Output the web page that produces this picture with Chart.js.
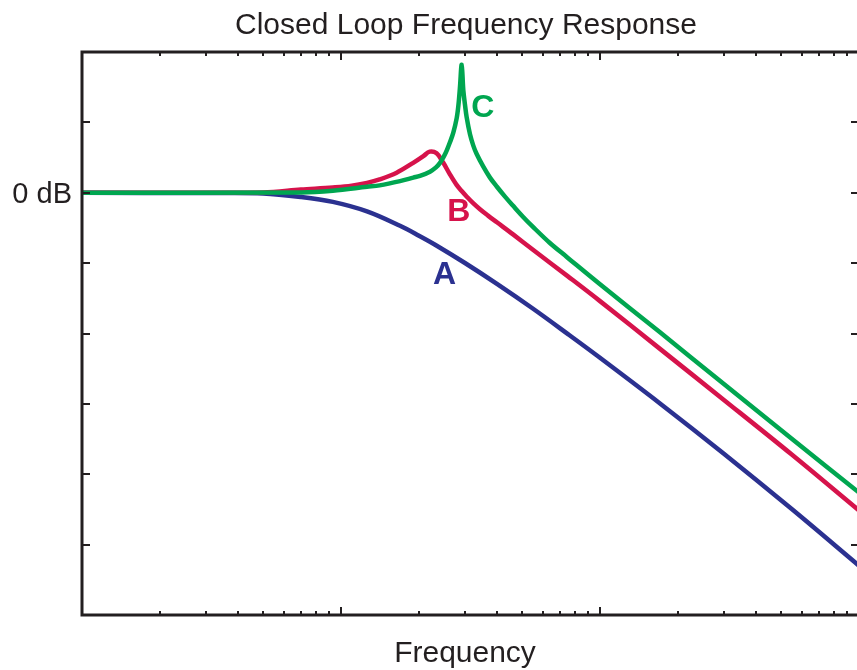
<!DOCTYPE html>
<html>
<head>
<meta charset="utf-8">
<title>Closed Loop Frequency Response</title>
<script src="https://cdn.jsdelivr.net/npm/chart.js@4.4.0/dist/chart.umd.min.js"></script>
<style>
  html, body { margin: 0; padding: 0; background: #fff; overflow: hidden; }
  #wrap { width: 857px; height: 670px; overflow: hidden; }
</style>
</head>
<body>
<div id="wrap"><canvas id="chart" width="861" height="670"></canvas></div>
<script>
// Frequency axis is logarithmic (three decades), gain in dB.
const gainTicks = [-100, -80, -60, -40, -20, 0, 20];
const freqDecades = [1, 10, 100, 1000];

// Curve A: well damped, rolls off early
const freqA = [1, 3, 5, 7, 9.3, 12.6, 16.9, 20, 23, 30, 40, 55, 75, 100, 170, 300, 550, 1000];
const gainA = [0, -0.1, -0.2, -1.2, -2.6, -5.3, -9.4, -12.2, -14.7, -19.9, -25.9, -32.9, -40.1, -46.9, -59.8, -74.1, -89.9, -106.0];

// Curve B: moderate peaking
const freqB = [1, 5, 7, 9.3, 11, 12.6, 14.1, 16.4, 19, 20.8, 22, 23.4, 24.8, 26.3, 27.9, 29.3, 30.66, 32.3, 34.4, 36.95, 40, 46.3, 55.1, 75, 100, 170, 300, 550, 1000];
const gainB = [0, 0.1, 0.9, 1.5, 2.0, 2.8, 3.8, 5.7, 8.5, 10.4, 11.7, 11.2, 8.6, 5.3, 2.3, 0.4, -1.2, -2.9, -4.7, -6.5, -8.4, -11.9, -16.2, -23.7, -30.8, -44.3, -58.8, -74.4, -90.3];

// Curve C: lightly damped, sharp resonance
const freqC = [1, 7, 9.3, 12.6, 14.1, 16.9, 19.02, 20.18, 22.06, 23.27, 24.11, 24.99, 25.66, 26.36, 27.14, 27.97, 28.42, 28.8, 29.24,
               29.66, 30.11, 30.57, 31.48, 32.42, 33.41, 35.44, 37.6, 40, 42.98, 46.3, 50.4, 55.1, 63.9, 74.6, 100, 170, 300, 550, 1000];
const gainC = [0, 0.1, 0.6, 1.7, 2.1, 3.3, 4.3, 4.8, 6.0, 7.2, 8.5, 10.4, 12.2, 14.4, 17.1, 21.2, 25.1, 30.1, 36.4,
               29.2, 25.0, 21.4, 16.6, 13.4, 11.0, 7.4, 4.3, 1.7, -1.1, -3.8, -6.8, -9.7, -14.2, -18.3, -26.0, -39.6, -54.3, -69.9, -85.2];

const curveNames = ['A', 'B', 'C'];
const curveColors = ['#2b3190', '#d6134b', '#00a650'];

// where each curve's letter sits (freq, dB at the text baseline)
const tagFreq = [25.1, 28.5, 35.3];
const tagGain = [-25.9, -8.0, 21.5];

const ink = '#231f20';
const font = '"Liberation Sans", Arial, Helvetica, sans-serif';

const toPoints = (xs, ys) => xs.map((x, i) => ({ x, y: ys[i] }));

function lineSet(label, xs, ys, color, order) {
    return {
        label,
        data: toPoints(xs, ys),
        borderColor: color,
        borderWidth: 4.5,
        pointRadius: 0,
        fill: false,
        tension: 0.35,
        borderJoinStyle: 'round',
        borderCapStyle: 'round',
        order,
    };
}

const framePlugin = {
    id: 'frame',
    afterDatasetsDraw(chart) {
        const { ctx, chartArea: a, scales } = chart;
        const xs = scales.x, ys = scales.y;
        ctx.save();
        ctx.strokeStyle = ink;
        ctx.lineCap = 'butt';

        // inward ticks on the gain axis, both sides
        ctx.lineWidth = 2;
        gainTicks.forEach(v => {
            const y = Math.round(ys.getPixelForValue(v));
            ctx.beginPath();
            ctx.moveTo(a.left, y); ctx.lineTo(a.left + 8, y);
            ctx.moveTo(a.right, y); ctx.lineTo(a.right - 8, y);
            ctx.stroke();
        });

        // decade and sub-decade ticks on top and bottom
        for (let d = 0; d < freqDecades.length - 1; d++) {
            for (let m = 1; m <= 9; m++) {
                const f = freqDecades[d] * m;
                if (f <= xs.min || f >= xs.max) continue;
                const x = Math.round(xs.getPixelForValue(f));
                const len = m === 1 ? 8 : 4;
                ctx.beginPath();
                ctx.moveTo(x, a.top); ctx.lineTo(x, a.top + len);
                ctx.moveTo(x, a.bottom); ctx.lineTo(x, a.bottom - len);
                ctx.stroke();
            }
        }

        // box
        ctx.lineWidth = 3;
        ctx.strokeRect(a.left, a.top, a.right - a.left, a.bottom - a.top);

        // texts
        ctx.fillStyle = ink;
        ctx.textBaseline = 'alphabetic';
        ctx.font = '30px ' + font;
        ctx.textAlign = 'center';
        ctx.fillText('Closed Loop Frequency Response', 466, 34);
        ctx.fillText('Frequency', 465, 662);

        ctx.font = '29px ' + font;
        ctx.textAlign = 'right';
        ctx.textBaseline = 'middle';
        ctx.fillText('0 dB', 72, ys.getPixelForValue(0) + 2);

        ctx.font = 'bold 32px ' + font;
        ctx.textAlign = 'center';
        ctx.textBaseline = 'alphabetic';
        curveNames.forEach((name, i) => {
            ctx.fillStyle = curveColors[i];
            ctx.fillText(name, xs.getPixelForValue(tagFreq[i]), ys.getPixelForValue(tagGain[i]));
        });
        ctx.restore();
    }
};

new Chart(document.getElementById('chart'), {
    type: 'line',
    data: {
        datasets: [
            lineSet('A', freqA, gainA, curveColors[0], 2),
            lineSet('B', freqB, gainB, curveColors[1], 1),
            lineSet('C', freqC, gainC, curveColors[2], 0),
        ],
    },
    options: {
        responsive: false,
        animation: false,
        devicePixelRatio: 1,
        layout: { padding: { left: 82, top: 52, right: 2, bottom: 55 } },
        scales: {
            x: { type: 'logarithmic', min: 1, max: 1000, display: false },
            y: { type: 'linear', min: -120, max: 40, display: false },
        },
        plugins: {
            legend: { display: false },
            tooltip: { enabled: false },
            title: { display: false },
        },
    },
    plugins: [framePlugin],
});
</script>
</body>
</html>
